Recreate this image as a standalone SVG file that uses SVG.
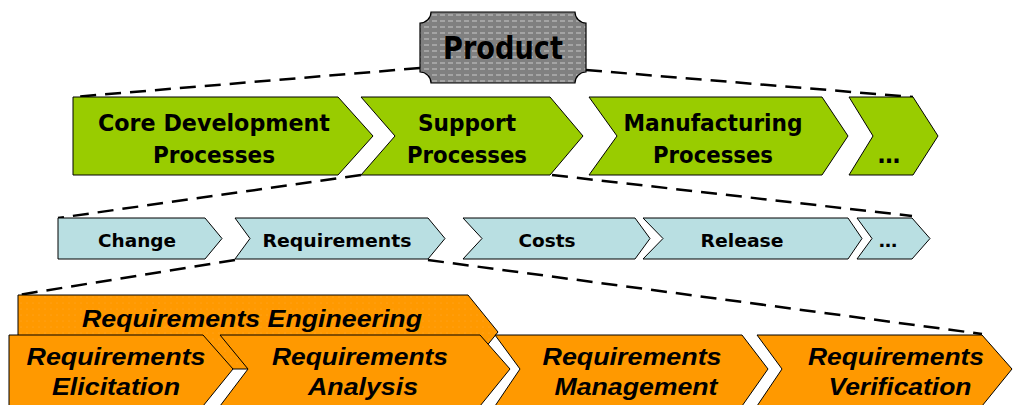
<svg xmlns="http://www.w3.org/2000/svg" width="1027" height="405" viewBox="0 0 1027 405">
<style>
.dash{fill:none;stroke:#000;stroke-width:2.5;stroke-dasharray:16,9}
.g{fill:#99CC00;stroke:#000;stroke-width:1}
.b{fill:#B9DFE2;stroke:#000;stroke-width:1}
.o{fill:#FF9900;stroke:#000;stroke-width:1}
.tg{font-family:"DejaVu Sans",Verdana,sans-serif;font-weight:bold;font-size:22.5px;fill:#000;text-anchor:middle}
.tb{font-family:"DejaVu Sans",Verdana,sans-serif;font-weight:bold;font-size:18.5px;fill:#000;text-anchor:middle}
.to{font-family:"Liberation Sans",Arial,sans-serif;font-weight:bold;font-style:italic;font-size:24px;fill:#000;text-anchor:middle}
</style>
<defs>
<pattern id="pgray" width="8" height="6" patternUnits="userSpaceOnUse">
<rect width="8" height="6" fill="#808080"/>
<line x1="0" y1="3" x2="5" y2="3" stroke="#c8c8c8" stroke-width="1"/>
</pattern>
<pattern id="pdot" width="6" height="6" patternUnits="userSpaceOnUse">
<rect width="6" height="6" fill="#FF9900"/>
<circle cx="3" cy="3" r="0.5" fill="#FFAE3A"/>
</pattern>
</defs>
<rect width="1027" height="405" fill="#fff"/>
<g id="connectors">
<line class="dash" x1="420" y1="68" x2="73" y2="97"/>
<line class="dash" x1="586" y1="70" x2="913" y2="97"/>
<line class="dash" x1="361" y1="175" x2="58" y2="218"/>
<line class="dash" x1="552" y1="175" x2="912" y2="216"/>
<line class="dash" x1="235" y1="260" x2="18" y2="295"/>
<line class="dash" x1="428" y1="260" x2="982" y2="334"/>
</g>
<g id="product">
<path d="M431,12 H575 A11,11 0 0 0 586,23 V72 A11,11 0 0 0 575,83 H431 A11,11 0 0 0 420,72 V23 A11,11 0 0 0 431,12 Z" fill="url(#pgray)" stroke="#000" stroke-width="1.2"/>
<text x="503" y="59" font-family="DejaVu Sans,Verdana,sans-serif" font-weight="bold" font-size="32" text-anchor="middle" textLength="120" lengthAdjust="spacingAndGlyphs">Product</text>
</g>
<g id="core-dev">
<path class="g" d="M73,97 H338 L373,136 L338,175 H73 Z"/>
<text class="tg" x="214" y="131" textLength="232" lengthAdjust="spacingAndGlyphs">Core Development</text>
<text class="tg" x="214" y="163" textLength="122" lengthAdjust="spacingAndGlyphs">Processes</text>
</g>
<g id="support">
<path class="g" d="M361,97 H550 L583,136 L550,175 H361 L395,136 Z"/>
<text class="tg" x="467" y="131" textLength="98" lengthAdjust="spacingAndGlyphs">Support</text>
<text class="tg" x="467" y="163" textLength="120" lengthAdjust="spacingAndGlyphs">Processes</text>
</g>
<g id="manufacturing">
<path class="g" d="M589,97 H822 L848,136 L822,175 H589 L617,136 Z"/>
<text class="tg" x="713" y="131" textLength="179" lengthAdjust="spacingAndGlyphs">Manufacturing</text>
<text class="tg" x="713" y="163" textLength="120" lengthAdjust="spacingAndGlyphs">Processes</text>
</g>
<g id="more-processes">
<path class="g" d="M849,97 H913 L938,136 L913,175 H849 L873,136 Z"/>
<text class="tg" x="889" y="163">…</text>
</g>
<g id="change">
<path class="b" d="M58,218 H205 L222,238.5 L205,259 H58 Z"/>
<text class="tb" x="137" y="247" textLength="78" lengthAdjust="spacingAndGlyphs">Change</text>
</g>
<g id="requirements">
<path class="b" d="M235,218 H428 L445,238.5 L428,259 H235 L250,238.5 Z"/>
<text class="tb" x="337" y="247" textLength="149" lengthAdjust="spacingAndGlyphs">Requirements</text>
</g>
<g id="costs">
<path class="b" d="M463,218 H635 L650,238.5 L635,259 H463 L482,238.5 Z"/>
<text class="tb" x="547" y="247" textLength="57" lengthAdjust="spacingAndGlyphs">Costs</text>
</g>
<g id="release">
<path class="b" d="M643,218 H848 L862,238.5 L848,259 H643 L663,238.5 Z"/>
<text class="tb" x="742" y="247" textLength="83" lengthAdjust="spacingAndGlyphs">Release</text>
</g>
<g id="more-support">
<path class="b" d="M857,218 H912 L930,238.5 L912,259 H857 L872,238.5 Z"/>
<text class="tb" x="888" y="247">…</text>
</g>
<g id="req-engineering">
<path d="M18,295 H468 L498,332 L468,369 H18 Z" fill="url(#pdot)" stroke="#000" stroke-width="1"/>
<text class="to" x="252" y="327" font-size="22" textLength="340" lengthAdjust="spacingAndGlyphs">Requirements Engineering</text>
</g>
<g id="req-elicitation">
<path class="o" d="M9,335 H203 L233,369 L203,406 H9 Z"/>
<text class="to" x="116" y="365" textLength="179" lengthAdjust="spacingAndGlyphs">Requirements</text>
<text class="to" x="116" y="395" textLength="128" lengthAdjust="spacingAndGlyphs">Elicitation</text>
</g>
<g id="req-analysis">
<path class="o" d="M220,335 H480 L510,369 L480,406 H220 L248,369 Z"/>
<text class="to" x="360" y="365" textLength="176" lengthAdjust="spacingAndGlyphs">Requirements</text>
<text class="to" x="363" y="395" textLength="110" lengthAdjust="spacingAndGlyphs">Analysis</text>
</g>
<g id="req-management">
<path class="o" d="M495,335 H742 L768,369 L742,406 H495 L520,369 Z"/>
<text class="to" x="632" y="365" textLength="179" lengthAdjust="spacingAndGlyphs">Requirements</text>
<text class="to" x="636" y="395" textLength="163" lengthAdjust="spacingAndGlyphs">Management</text>
</g>
<g id="req-verification">
<path class="o" d="M757,335 H982 L1012,369 L982,406 H757 L782,369 Z"/>
<text class="to" x="896" y="365" textLength="176" lengthAdjust="spacingAndGlyphs">Requirements</text>
<text class="to" x="900" y="395" textLength="143" lengthAdjust="spacingAndGlyphs">Verification</text>
</g>
</svg>
